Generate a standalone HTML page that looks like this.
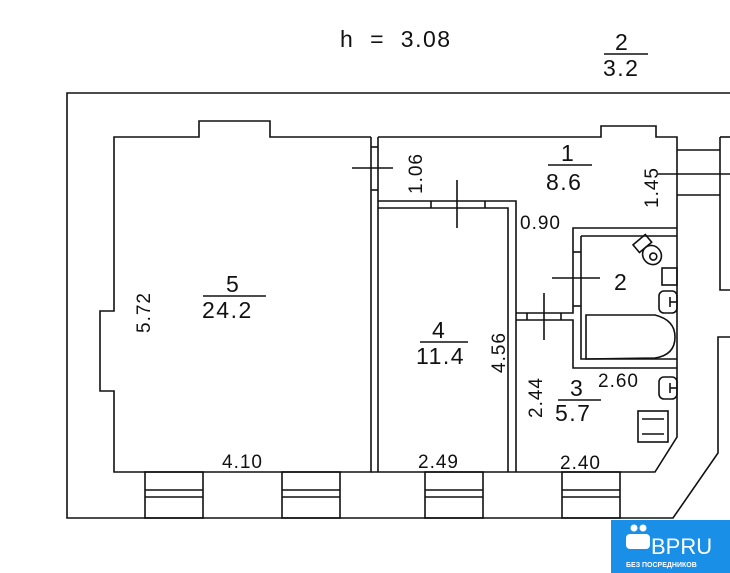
<!DOCTYPE html>
<html><head><meta charset="utf-8"><style>
html,body{margin:0;padding:0;background:#fff;width:730px;height:573px;overflow:hidden}
svg{display:block}
text{font-family:"Liberation Sans",sans-serif;fill:#111}
</style></head><body>
<svg width="730" height="573" viewBox="0 0 730 573" xmlns="http://www.w3.org/2000/svg">
<g fill="none" stroke="#111" stroke-width="1.6">
<polyline points="730,93 67,93 67,518 673,518 718,453 718,337 730,337"/>
<polyline points="371,137 270,137 270,121 199,121 199,137 114,137 114,311 100,311 100,391 114,391 114,472 371,472 371,137"/>
<line x1="378" y1="137" x2="378" y2="472"/>
<line x1="371" y1="147" x2="378" y2="147"/><line x1="371" y1="190" x2="378" y2="190"/>
<polyline points="378,137 601,137 601,126 656,126 656,137 677,137 677,437 655,472 516,472"/>
<polyline points="378,201 516,201 516,472"/>
<polyline points="378,208 508,208 508,472"/>
<line x1="431" y1="201" x2="431" y2="208"/><line x1="485" y1="201" x2="485" y2="208"/>
<line x1="371" y1="472" x2="516" y2="472"/>
<polyline points="516,313 573,313 573,228 677,228"/>
<polyline points="516,320 573,320 573,368 677,368"/>
<polyline points="581,236 677,236"/><polyline points="581,236 581,359 677,359"/>
<line x1="573" y1="252" x2="581" y2="252"/><line x1="573" y1="306" x2="581" y2="306"/>
<line x1="527" y1="313" x2="527" y2="320"/><line x1="561" y1="313" x2="561" y2="320"/>
<path d="M586,359 L586,315 L655,315 Q675,320 675,337 Q675,355 655,358 Z"/>
<g transform="translate(652,255) rotate(-40)"><ellipse cx="0" cy="0" rx="9" ry="10"/><circle cx="0" cy="2" r="3.5"/><rect x="-8" y="-20" width="16" height="10"/></g>
<rect x="662" y="268" width="15" height="17"/>
<rect x="659" y="291" width="18" height="22" rx="5"/><line x1="670" y1="297" x2="670" y2="307"/><line x1="670" y1="302" x2="677" y2="302"/>
<rect x="659" y="377" width="18" height="22" rx="5"/><line x1="670" y1="383" x2="670" y2="393"/><line x1="670" y1="388" x2="677" y2="388"/>
<rect x="638" y="411" width="30" height="31"/>
<line x1="642" y1="419" x2="664" y2="419"/><line x1="642" y1="434" x2="664" y2="434"/>
<polyline points="677,150 720,150"/><polyline points="677,195 720,195"/>
<line x1="720" y1="137" x2="730" y2="137"/><polyline points="720,137 720,290 730,290"/>
<g id="w"><rect x="145" y="472" width="58" height="46"/><line x1="145" y1="490" x2="203" y2="490"/><line x1="145" y1="497" x2="203" y2="497"/></g>
<use href="#w" x="137"/><use href="#w" x="280"/><use href="#w" x="417"/>
<line x1="352" y1="168" x2="393" y2="168"/>
<line x1="457" y1="180" x2="457" y2="228"/>
<line x1="552" y1="278" x2="600" y2="278"/>
<line x1="544" y1="293" x2="544" y2="340"/>
<line x1="658" y1="174" x2="730" y2="174"/>
<line x1="203" y1="296" x2="266" y2="296"/>
<line x1="420" y1="342" x2="468" y2="342"/>
<line x1="548" y1="165" x2="592" y2="165"/>
<line x1="558" y1="400" x2="601" y2="400"/>
<line x1="604" y1="54" x2="648" y2="54"/>
</g>
<g font-size="23" letter-spacing="1.5">
<text x="340" y="47" xml:space="preserve">h  =  3.08</text>
<text x="615" y="50">2</text><text x="603" y="76">3.2</text>
<text x="226" y="292">5</text><text x="202" y="318">24.2</text>
<text x="432" y="338">4</text><text x="416" y="364">11.4</text>
<text x="561" y="161">1</text><text x="546" y="190">8.6</text>
<text x="614" y="290">2</text>
<text x="570" y="396">3</text><text x="555" y="421">5.7</text>
</g>
<g font-size="19" letter-spacing="1">
<text x="222" y="468">4.10</text>
<text x="418" y="468">2.49</text>
<text x="560" y="469">2.40</text>
<text x="520" y="229">0.90</text>
<text x="598" y="387">2.60</text>
<text transform="translate(150,333) rotate(-90)">5.72</text>
<text transform="translate(422,194) rotate(-90)">1.06</text>
<text transform="translate(658,208) rotate(-90)">1.45</text>
<text transform="translate(505,373) rotate(-90)">4.56</text>
<text transform="translate(542,418) rotate(-90)">2.44</text>
</g>
<rect x="611" y="520" width="119" height="53" fill="#1a8fe8"/>
<circle cx="634" cy="528" r="3.5" fill="#fff"/><circle cx="643" cy="528" r="3.5" fill="#fff"/>
<rect x="626" y="534" width="24" height="15" rx="4" fill="#fff"/>
<text x="651" y="554" font-size="22" style="fill:#fff">BPRU</text>
<text x="626" y="567" font-size="7" font-weight="bold" style="fill:#fff">БЕЗ ПОСРЕДНИКОВ</text>
</svg>
</body></html>
